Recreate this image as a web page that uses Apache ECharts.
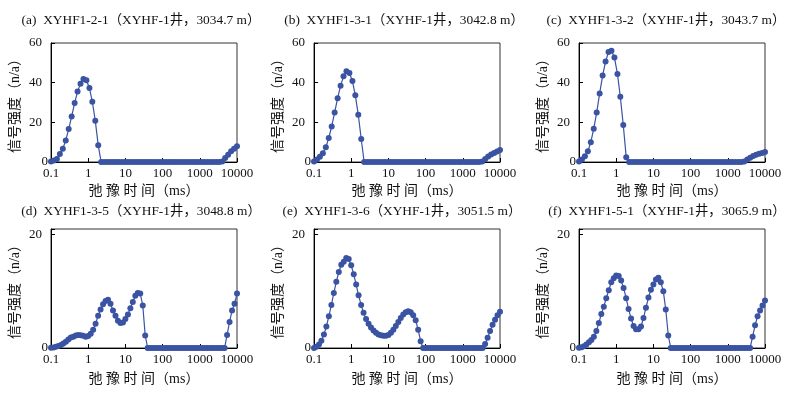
<!DOCTYPE html>
<html><head><meta charset="utf-8">
<script src="https://cdn.jsdelivr.net/npm/echarts/dist/echarts.min.js"></script>
<style>html,body{margin:0;padding:0;background:#fff}#c{width:788px;height:393px}</style>
</head><body><div id="c"></div>
<script>
// ---------- DATA ----------
const TITLES = [
  "(a)  XYHF1-2-1（XYHF-1井，3034.7 m）",
  "(b)  XYHF1-3-1（XYHF-1井，3042.8 m）",
  "(c)  XYHF1-3-2（XYHF-1井，3043.7 m）",
  "(d)  XYHF1-3-5（XYHF-1井，3048.8 m）",
  "(e)  XYHF1-3-6（XYHF-1井，3051.5 m）",
  "(f)  XYHF1-5-1（XYHF-1井，3065.9 m）"
];
const X_NAME = "弛 豫 时 间（ms）";
const Y_NAME = "信号强度（n/a）";
const X_TICKS = [0.1, 1, 10, 100, 1000, 10000];
const Y_TICKS_TOP = [0, 20, 40, 60];
const Y_TICKS_BOTTOM = [0, 20];

// T2 grid, top row (64 points)
const T2_TOP = [0.1,0.12,0.144,0.173,0.208,0.249,0.299,0.359,0.432,0.518,0.622,0.746,0.896,1.08,1.29,1.55,
  1.86,2.23,2.68,3.22,3.87,4.64,5.57,6.69,8.03,9.64,11.6,13.9,16.7,20,24,28.9,
  34.6,41.6,49.9,59.9,72,86.4,104,125,149,179,215,259,311,373,448,537,
  645,774,930,1120,1340,1610,1930,2320,2780,3340,4010,4810,5780,6940,8330,10000];

// T2 grid, bottom row (76 points)
const T2_BOTTOM = [0.1,0.117,0.136,0.158,0.185,0.215,0.251,0.293,0.341,0.398,0.464,0.541,0.631,0.736,0.858,
  1,1.17,1.36,1.58,1.85,2.15,2.51,2.93,3.41,3.98,4.64,5.41,6.31,7.36,8.58,
  10,11.7,13.6,15.8,18.5,21.5,25.1,29.3,34.1,39.8,46.4,54.1,63.1,73.6,85.8,
  100,117,136,158,185,215,251,293,341,398,464,541,631,736,858,
  1000,1170,1360,1580,1850,2150,2510,2930,3410,3980,4640,5410,6310,7360,8580,
  10000];

// signal amplitude, 16 values per row
const SIG_A = [0.3,0.7,1.5,4.0,6.7,10.9,16.6,23,29.7,35.6,39.5,41.8,41.2,37.3,30.4,20.8,
  8.4,0,0,0,0,0,0,0,0,0,0,0,0,0,0,0,
  0,0,0,0,0,0,0,0,0,0,0,0,0,0,0,0,
  0,0,0,0,0,0,0,0,0,0,0.2,2.0,3.7,5.4,6.7,7.9];
const SIG_B = [0.3,1.3,2.7,4.4,7.4,12.1,17.9,25,32.2,38.4,43.2,45.7,44.9,40.8,33.6,23.8,
  11.6,0,0,0,0,0,0,0,0,0,0,0,0,0,0,0,
  0,0,0,0,0,0,0,0,0,0,0,0,0,0,0,0,
  0,0,0,0,0,0,0,0,0,0.2,1.5,2.8,3.8,4.6,5.3,6.0];
const SIG_C = [0.3,1.2,2.9,5.4,10,16.8,24.9,34.6,43.6,50.7,55.4,56.1,52.7,44.4,32.9,18.6,
  2.4,0,0,0,0,0,0,0,0,0,0,0,0,0,0,0,
  0,0,0,0,0,0,0,0,0,0,0,0,0,0,0,0,
  0,0,0,0,0,0,0,0,0.2,1.2,2.2,3.0,3.6,4.1,4.5,5.0];
// 15 values per row
const SIG_D = [0.05,0.1,0.2,0.35,0.55,0.8,1.1,1.5,1.85,2.0,2.2,2.3,2.25,2.15,2.0,
  2.1,2.5,3.2,4.3,5.7,6.8,7.7,8.3,8.5,7.8,6.6,5.7,4.8,4.4,4.5,
  5.1,5.9,7.0,8.1,9.2,9.7,9.6,7.5,2.2,0,0,0,0,0,0,
  0,0,0,0,0,0,0,0,0,0,0,0,0,0,0,
  0,0,0,0,0,0,0,0,0,0,0,2.3,4.6,6.6,7.8,
  9.6];
const SIG_E = [0,0.2,0.6,1.3,2.4,3.8,5.6,7.6,9.7,11.7,13.4,14.7,15.2,15.9,15.7,
  14.6,13.0,11.2,9.3,7.6,6.2,5.1,4.3,3.6,3.1,2.7,2.4,2.25,2.15,2.15,
  2.3,2.7,3.2,3.9,4.6,5.3,5.9,6.3,6.5,6.3,5.8,4.9,3.2,1.2,0,
  0,0,0,0,0,0,0,0,0,0,0,0,0,0,0,
  0,0,0,0,0,0,0,0,0,0.7,1.8,3.0,4.1,5.0,5.8,
  6.4];
const SIG_F = [0.05,0.15,0.3,0.6,1.0,1.4,2.0,3.0,4.4,6.0,7.3,8.8,10.2,11.6,12.3,
  12.8,12.7,11.9,10.6,8.8,6.9,5.2,3.9,3.3,3.3,3.8,5.3,7.1,8.9,10.3,
  11.2,12.1,12.4,11.6,10.0,6.8,2.2,0,0,0,0,0,0,0,0,
  0,0,0,0,0,0,0,0,0,0,0,0,0,0,0,
  0,0,0,0,0,0,0,0,0,0,2.0,4.0,5.6,6.6,7.5,
  8.4];

// ---------- LAYOUT ----------
const FONT = "'Liberation Serif','Times New Roman','Noto Sans CJK SC',serif";
const COLOR = '#3a53a3';
const panels = [
  {t2: T2_TOP, y: SIG_A, left: 51, top: 43, ymax: 60, yt: Y_TICKS_TOP, tx: 141, ty: 20, gap: 22},
  {t2: T2_TOP, y: SIG_B, left: 314, top: 43, ymax: 60, yt: Y_TICKS_TOP, tx: 404, ty: 20, gap: 22},
  {t2: T2_TOP, y: SIG_C, left: 579, top: 43, ymax: 60, yt: Y_TICKS_TOP, tx: 666, ty: 20, gap: 22},
  {t2: T2_BOTTOM, y: SIG_D, left: 51, top: 229, ymax: 21, yt: Y_TICKS_BOTTOM, tx: 141, ty: 211, gap: 24},
  {t2: T2_BOTTOM, y: SIG_E, left: 314, top: 229, ymax: 21, yt: Y_TICKS_BOTTOM, tx: 402, ty: 211, gap: 24},
  {t2: T2_BOTTOM, y: SIG_F, left: 579, top: 229, ymax: 21, yt: Y_TICKS_BOTTOM, tx: 667, ty: 211, gap: 24}
];
const W = 186, H = 119;

const grid = [], xAxis = [], yAxis = [], series = [], graphic = [];
panels.forEach((p, i) => {
  grid.push({left: p.left, top: p.top, width: W, height: H, show: true,
    borderColor: '#333', borderWidth: 1, backgroundColor: 'transparent',
    containLabel: false, outerBoundsMode: 'none'});
  xAxis.push({
    type: 'log', logBase: 10, gridIndex: i, min: X_TICKS[0], max: X_TICKS[X_TICKS.length - 1], splitNumber: 5,
    axisLine: {show: true, lineStyle: {color: '#000', width: 1}},
    axisTick: {show: true, inside: true, length: 4, lineStyle: {color: '#000'}},
    minorTick: {show: false}, splitLine: {show: false},
    axisLabel: {margin: 5, fontSize: 13, color: '#111', fontFamily: FONT,
      formatter: v => { const n = Number(Number(v).toPrecision(4)); return X_TICKS.indexOf(n) >= 0 ? String(n) : ''; }},
    name: X_NAME, nameLocation: 'middle', nameGap: p.gap,
    nameTextStyle: {fontSize: 14, color: '#111', fontFamily: FONT}
  });
  yAxis.push({
    type: 'value', gridIndex: i, min: 0, max: p.ymax, interval: 20,
    axisLine: {show: true, lineStyle: {color: '#000', width: 1}},
    axisTick: {show: true, inside: true, length: 4, lineStyle: {color: '#000'}},
    splitLine: {show: false},
    axisLabel: {margin: 3, fontSize: 13, color: '#111', fontFamily: FONT,
      formatter: v => (p.yt.indexOf(v) < 0 ? '' : (v === 0 ? '{z|0}' : '{n|' + v + '}')),
      rich: {z: {fontSize: 13, color: '#111', fontFamily: FONT},
             n: {fontSize: 13, color: '#111', fontFamily: FONT, padding: [0, 6, 0, 0]}}},
    name: Y_NAME, nameLocation: 'middle', nameRotate: 90, nameGap: 29,
    nameTextStyle: {fontSize: 14, color: '#111', fontFamily: FONT}
  });
  series.push({
    type: 'line', xAxisIndex: i, yAxisIndex: i,
    data: p.t2.map((t, j) => [t, p.y[j]]),
    symbol: 'circle', symbolSize: 6, showSymbol: true, showAllSymbol: true,
    lineStyle: {color: COLOR, width: 1.2}, itemStyle: {color: COLOR},
    silent: true, animation: false, clip: false
  });
  graphic.push({type: 'text', x: p.tx, y: p.ty,
    style: {text: TITLES[i], fill: '#111', font: '13.4px ' + FONT, textAlign: 'center', textVerticalAlign: 'middle'}});
});

const chart = echarts.init(document.getElementById('c'), null, {renderer: 'canvas'});
chart.setOption({animation: false, backgroundColor: '#fff', grid, xAxis, yAxis, series, graphic});
</script></body></html>
